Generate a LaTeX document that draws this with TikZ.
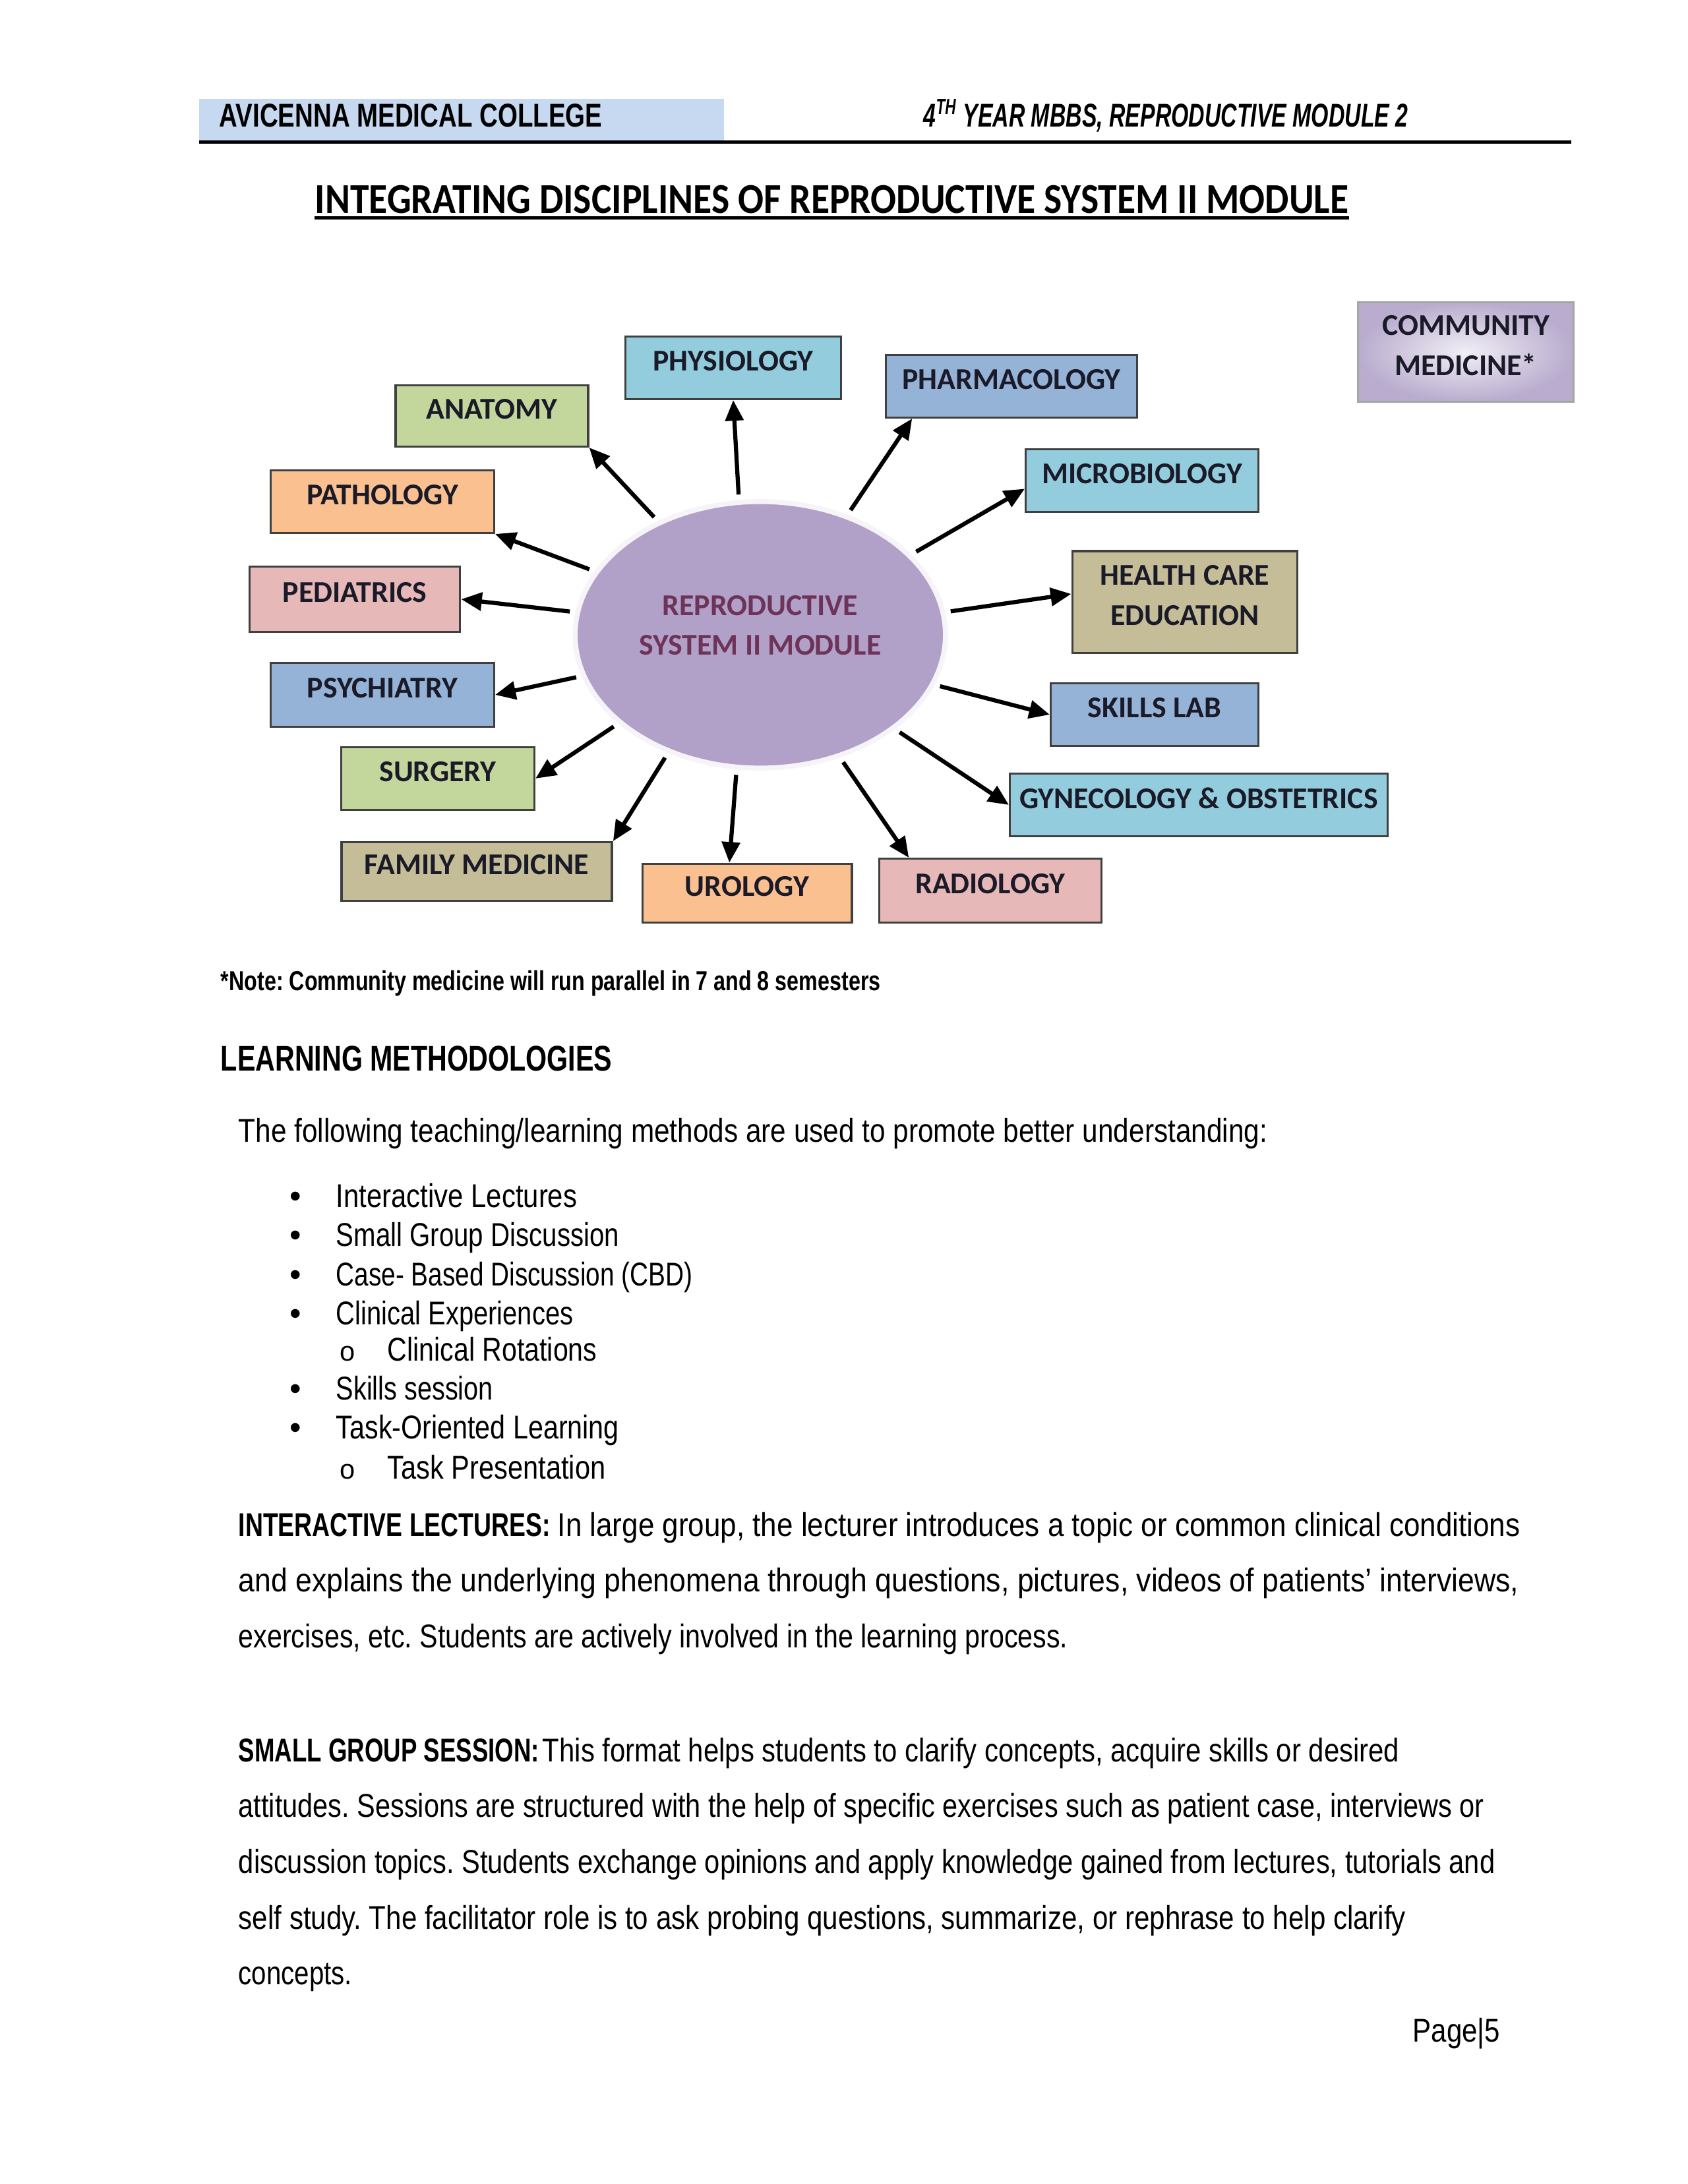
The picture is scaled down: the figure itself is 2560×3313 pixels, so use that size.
\documentclass[tikz,border=0pt]{standalone}
\usepackage{fontspec}
\setmainfont{Liberation Sans}
\newfontfamily\calfont{Carlito}
\usepackage{graphicx}
\usetikzlibrary{arrows.meta,shapes.geometric}
\frenchspacing

\definecolor{hdrblue}{HTML}{C6D9F1}
\definecolor{cyanbox}{HTML}{93CDDD}
\definecolor{bluebox}{HTML}{95B3D7}
\definecolor{greenbox}{HTML}{C3D69B}
\definecolor{orangebox}{HTML}{FAC090}
\definecolor{pinkbox}{HTML}{E6B9B8}
\definecolor{khakibox}{HTML}{C4BD97}
\definecolor{hubfill}{HTML}{B1A1C8}
\definecolor{hubtext}{HTML}{6E3358}
\definecolor{boxtext}{HTML}{1A1A28}
\definecolor{cmlav}{HTML}{B9ACCE}

% squeeze a line of text to a width given in picture pixels
\newsavebox\fitbox
\newcommand\fitto[2]{\sbox\fitbox{#2}\edef\fitwd{\the\wd\fitbox}%
  \pgfmathparse{#1*0.23906/\fitwd}\let\fitsq\pgfmathresult
  \scalebox{\fitsq}[1]{\usebox\fitbox}}

\tikzset{
  discbox/.style={rectangle, draw=black!75, line width=0.8pt, text=boxtext,
    font=\calfont\bfseries\fontsize{11}{14.6}\selectfont, align=center,
    text depth=5pt, inner sep=2pt},
  spoke/.style={-{Triangle[length=7.5pt,width=6.5pt]}, line width=1.5pt,
    shorten <=2pt},
  txt/.style={anchor=base west, inner sep=0pt},
  body/.style={txt, font=\fontsize{12}{14}\selectfont}
}

\begin{document}
\begin{tikzpicture}[x=0.0084336cm, y=-0.0084336cm]
  \useasboundingbox (0,0) rectangle (2560,3313);
  \fill[white] (0,0) rectangle (2560,3313);

  % Header
  \fill[hdrblue] (302,150) rectangle (1098,213);
  \draw[line width=1.2pt] (302,215) -- (2383,215);
  \node[txt, font=\bfseries\fontsize{12}{14}\selectfont] (college) at (332,192)
    {\fitto{583}{AVICENNA MEDICAL COLLEGE}};
  \node[txt, font=\bfseries\itshape\fontsize{12}{14}\selectfont] (year) at (1400,192)
    {\fitto{738}{4\textsuperscript{TH} YEAR MBBS, REPRODUCTIVE MODULE 2}};

  % Title
  \node[txt, font=\calfont\bfseries\fontsize{15.5}{18}\selectfont] (title) at (477,323)
    {\fitto{1574}{INTEGRATING DISCIPLINES OF REPRODUCTIVE SYSTEM II MODULE}};
  \draw[line width=1.2pt] ([yshift=-1.8pt]title.base west) -- ([yshift=-1.8pt]title.base east);

  % Nodes
  \node[ellipse, draw=white!88!hubfill, line width=1.8pt, fill=hubfill, text=hubtext,
    font=\calfont\bfseries\fontsize{11}{14.6}\selectfont, align=center, text depth=7pt,
    minimum width=564*0.23906pt, minimum height=406*0.23906pt] (hub) at (1153,963)
    {REPRODUCTIVE\\SYSTEM II MODULE};

  \node[discbox, fill=cyanbox, minimum width=328*0.23906pt, minimum height=95*0.23906pt] (phys) at (1112,558) {PHYSIOLOGY};
  \node[discbox, fill=bluebox, minimum width=383*0.23906pt, minimum height=95*0.23906pt] (pharm) at (1534,586) {PHARMACOLOGY};
  \node[discbox, fill=greenbox, minimum width=293*0.23906pt, minimum height=93*0.23906pt] (anat) at (746,631) {ANATOMY};
  \node[discbox, fill=cyanbox, minimum width=354*0.23906pt, minimum height=95*0.23906pt] (micro) at (1732,729) {MICROBIOLOGY};
  \node[discbox, fill=orangebox, minimum width=340*0.23906pt, minimum height=95*0.23906pt] (path) at (580,761) {PATHOLOGY};
  \node[discbox, fill=pinkbox, minimum width=321*0.23906pt, minimum height=99*0.23906pt] (ped) at (538,909) {PEDIATRICS};
  \node[discbox, fill=khakibox, minimum width=343*0.23906pt, minimum height=155*0.23906pt] (hce) at (1797,913) {HEALTH CARE\\EDUCATION};
  \node[discbox, fill=bluebox, minimum width=340*0.23906pt, minimum height=98*0.23906pt] (psy) at (580,1054) {PSYCHIATRY};
  \node[discbox, fill=bluebox, minimum width=316*0.23906pt, minimum height=95*0.23906pt] (skills) at (1751,1084) {SKILLS LAB};
  \node[discbox, fill=greenbox, minimum width=294*0.23906pt, minimum height=95*0.23906pt] (surg) at (664,1181) {SURGERY};
  \node[discbox, fill=cyanbox, minimum width=575*0.23906pt, minimum height=95*0.23906pt] (gyn) at (1818,1221) {GYNECOLOGY \& OBSTETRICS};
  \node[discbox, fill=khakibox, minimum width=412*0.23906pt, minimum height=89*0.23906pt] (fam) at (723,1322) {FAMILY MEDICINE};
  \node[discbox, fill=orangebox, minimum width=319*0.23906pt, minimum height=90*0.23906pt] (uro) at (1133,1355) {UROLOGY};
  \node[discbox, fill=pinkbox, minimum width=338*0.23906pt, minimum height=97*0.23906pt] (rad) at (1502,1351) {RADIOLOGY};
  \node[discbox, draw=black!35, shading=radial, inner color=white!80!cmlav, outer color=cmlav,
    minimum width=328*0.23906pt, minimum height=152*0.23906pt] (commu) at (2223,534) {COMMUNITY\\MEDICINE*};

  % Edges
  \draw[spoke] (hub.132) -- (anat.south east);
  \draw[spoke] (hub.99) -- (phys.south);
  \draw[spoke] (hub.54) -- (pharm.198);
  \draw[spoke] (hub.28) -- (micro.184);
  \draw[spoke] (hub.7) -- (hce.176);
  \draw[spoke] (hub.-16) -- (skills.west);
  \draw[spoke] (hub.-35) -- (gyn.west);
  \draw[spoke] (hub.-57) -- (rad.158);
  \draw[spoke] (hub.-100) -- (uro.120);
  \draw[spoke] (hub.232) -- (fam.north east);
  \draw[spoke] (hub.212) -- (surg.east);
  \draw[spoke] (hub.193) -- (psy.east);
  \draw[spoke] (hub.173) -- (ped.east);
  \draw[spoke] (hub.159) -- (path.south east);

  % Text below the diagram
  \node[txt, font=\bfseries\fontsize{10}{12}\selectfont] (note) at (334,1502)
    {\fitto{1005}{*Note: Community medicine will run parallel in 7 and 8 semesters}};
  \node[txt, font=\bfseries\fontsize{13}{15}\selectfont] (learn) at (334,1624)
    {\fitto{596}{LEARNING METHODOLOGIES}};
  \node[body] (intro) at (361,1732)
    {\fitto{1567}{The following teaching/learning methods are used to promote better understanding:}};

  \node[body] (dot1) at (439,1831) {\textbullet};
  \node[body] (item1) at (509,1831) {\fitto{367}{Interactive Lectures}};
  \node[body] (dot2) at (439,1890) {\textbullet};
  \node[body] (item2) at (509,1890) {\fitto{431}{Small Group Discussion}};
  \node[body] (dot3) at (439,1950) {\textbullet};
  \node[body] (item3) at (509,1950) {\fitto{543}{Case- Based Discussion (CBD)}};
  \node[body] (dot4) at (439,2009) {\textbullet};
  \node[body] (item4) at (509,2009) {\fitto{361}{Clinical Experiences}};
  \node[body, font=\fontsize{10}{12}\selectfont] (ring1) at (515,2064) {o};
  \node[body] (sub1) at (587,2064) {\fitto{319}{Clinical Rotations}};
  \node[body] (dot5) at (439,2123) {\textbullet};
  \node[body] (item5) at (509,2123) {\fitto{239}{Skills session}};
  \node[body] (dot6) at (439,2182) {\textbullet};
  \node[body] (item6) at (509,2182) {\fitto{431}{Task-Oriented Learning}};
  \node[body, font=\fontsize{10}{12}\selectfont] (ring2) at (515,2243) {o};
  \node[body] (sub2) at (587,2243) {\fitto{332}{Task Presentation}};

  \node[body, font=\bfseries\fontsize{12}{14}\selectfont] (ilhead) at (361,2330) {\fitto{475}{INTERACTIVE LECTURES:}};
  \node[body] (il1) at (845,2330) {\fitto{1466}{In large group, the lecturer introduces a topic or common clinical conditions}};
  \node[body] (il2) at (361,2414) {\fitto{1950}{and explains the underlying phenomena through questions, pictures, videos of patients’ interviews,}};
  \node[body] (il3) at (361,2499) {\fitto{1263}{exercises, etc. Students are actively involved in the learning process.}};

  \node[body, font=\bfseries\fontsize{12}{14}\selectfont] (sghead) at (361,2672) {\fitto{458}{SMALL GROUP SESSION:}};
  \node[body] (sg1) at (822,2672) {\fitto{1305}{This format helps students to clarify concepts, acquire skills or desired}};
  \node[body] (sg2) at (361,2756) {\fitto{1897}{attitudes. Sessions are structured with the help of specific exercises such as patient case, interviews or}};
  \node[body] (sg3) at (361,2841) {\fitto{1914}{discussion topics. Students exchange opinions and apply knowledge gained from lectures, tutorials and}};
  \node[body] (sg4) at (361,2926) {\fitto{1778}{self study. The facilitator role is to ask probing questions, summarize, or rephrase to help clarify}};
  \node[body] (sg5) at (361,3010) {\fitto{173}{concepts.}};

  \node[body] (page) at (2142,3097) {\fitto{133}{Page|5}};
\end{tikzpicture}
\end{document}
